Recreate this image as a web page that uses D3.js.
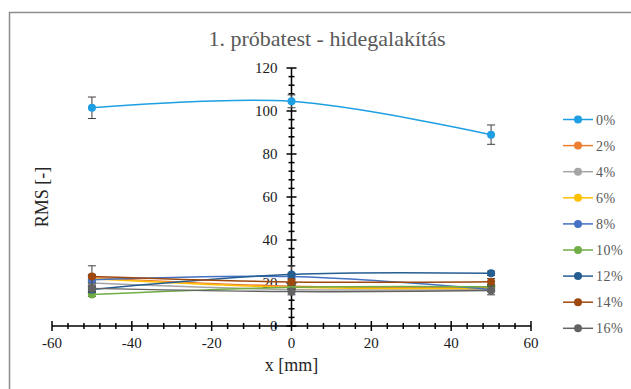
<!DOCTYPE html>
<html>
<head>
<meta charset="utf-8">
<script src="https://cdn.jsdelivr.net/npm/d3@7"></script>
<style>
  body { margin: 0; background: #fff; }
</style>
</head>
<body>
<div id="chart"></div>
<script>
// positions mesurées (mm)
const positions = [-50, 0, 50];

// noms des séries (légende)
const seriesNames = ["0%", "2%", "4%", "6%", "8%", "10%", "12%", "14%", "16%"];
const seriesColors = ["#1E9FE3", "#ED7D31", "#A5A5A5", "#FFC000", "#4472C4", "#70AD47", "#255E91", "#9E480E", "#636363"];

// valeurs RMS par série
const rms0 = [101.5, 104.5, 89];
const rms2 = [22.5, 18.5, 18];
const rms4 = [20, 17, 17];
const rms6 = [22, 18, 17.5];
const rms8 = [21.5, 23, 17];
const rms10 = [14.7, 18, 18.3];
const rms12 = [17, 24, 24.5];
const rms14 = [23, 20.5, 20.6];
const rms16 = [17.5, 16, 16.5];

// barres d'erreur
const err0 = [5, 3, 4.5];
const err2 = [1.5, 1, 1];
const err4 = [1.5, 1, 1];
const err6 = [1.5, 1, 1];
const err8 = [1.5, 1.5, 1];
const err10 = [1, 1, 1];
const err12 = [1.5, 4, 1];
const err14 = [5, 1.5, 1.5];
const err16 = [1.5, 1.5, 2];

const allValues = [rms0, rms2, rms4, rms6, rms8, rms10, rms12, rms14, rms16];
const allErrors = [err0, err2, err4, err6, err8, err10, err12, err14, err16];

// graduations
const xTicks = [-60, -40, -20, 0, 20, 40, 60];
const yTicks = [0, 20, 40, 60, 80, 100, 120];

const width = 631, height = 389;
const serif = "'Liberation Serif', 'Times New Roman', 'DejaVu Serif', serif";

const svg = d3.select("#chart").append("svg")
    .attr("width", width)
    .attr("height", height)
    .style("font-family", serif);

// cadre du graphique
svg.append("rect")
    .attr("x", 9.5).attr("y", 12.5)
    .attr("width", 640).attr("height", 400)
    .attr("fill", "none")
    .attr("stroke", "#8c8c8c")
    .attr("stroke-width", 1.5);

// titre
svg.append("text")
    .attr("x", 327).attr("y", 46)
    .attr("text-anchor", "middle")
    .attr("font-size", 22)
    .attr("fill", "#595959")
    .text("1. próbatest - hidegalakítás");

const x = d3.scaleLinear().domain([-60, 60]).range([52, 531]);
const y = d3.scaleLinear().domain([0, 120]).range([326, 68]);

// axe X (à y = 0)
const minorX = d3.range(-60, 61, 4);
const xAxisG = svg.append("g").attr("transform", `translate(0,${y(0)})`);
xAxisG.append("line")
    .attr("x1", x(-60)).attr("x2", x(60))
    .attr("stroke", "#000").attr("stroke-width", 1.5);
xAxisG.selectAll("line.minor")
    .data(minorX)
    .enter().append("line")
    .attr("class", "minor")
    .attr("x1", d => x(d)).attr("x2", d => x(d))
    .attr("y1", d => xTicks.includes(d) ? -5 : -3)
    .attr("y2", d => xTicks.includes(d) ? 5 : 3)
    .attr("stroke", "#000").attr("stroke-width", 1.5);
xAxisG.selectAll("text")
    .data(xTicks)
    .enter().append("text")
    .attr("x", d => x(d))
    .attr("y", 22)
    .attr("text-anchor", "middle")
    .attr("font-size", 15)
    .attr("fill", "#1a1a1a")
    .text(d => d);

// axe Y (à x = 0)
const minorY = d3.range(0, 121, 4);
const yAxisG = svg.append("g").attr("transform", `translate(${x(0)},0)`);
yAxisG.append("line")
    .attr("y1", y(0)).attr("y2", y(120))
    .attr("stroke", "#000").attr("stroke-width", 1.5);
yAxisG.selectAll("line.minor")
    .data(minorY)
    .enter().append("line")
    .attr("class", "minor")
    .attr("y1", d => y(d)).attr("y2", d => y(d))
    .attr("x1", d => yTicks.includes(d) ? -5 : -3)
    .attr("x2", d => yTicks.includes(d) ? 5 : 3)
    .attr("stroke", "#000").attr("stroke-width", 1.5);
yAxisG.selectAll("text")
    .data(yTicks)
    .enter().append("text")
    .attr("x", -14)
    .attr("y", d => y(d) + 5)
    .attr("text-anchor", "end")
    .attr("font-size", 15)
    .attr("fill", "#1a1a1a")
    .text(d => d);

// titres des axes
svg.append("text")
    .attr("x", x(0)).attr("y", 371)
    .attr("text-anchor", "middle")
    .attr("font-size", 18)
    .attr("fill", "#262626")
    .text("x [mm]");
svg.append("text")
    .attr("transform", `translate(48,${y(60)}) rotate(-90)`)
    .attr("text-anchor", "middle")
    .attr("font-size", 18)
    .attr("fill", "#262626")
    .text("RMS [-]");

// séries
const line = d3.line()
    .x(d => x(d.x))
    .y(d => y(d.v))
    .curve(d3.curveCatmullRom.alpha(0.5));

allValues.forEach((vals, i) => {
    const pts = positions.map((p, j) => ({ x: p, v: vals[j], e: allErrors[i][j] }));
    const g = svg.append("g");

    g.append("path")
        .datum(pts)
        .attr("d", line)
        .attr("fill", "none")
        .attr("stroke", seriesColors[i])
        .attr("stroke-width", 1.5);

    // barres d'erreur
    pts.forEach(p => {
        const cx = x(p.x);
        g.append("line")
            .attr("x1", cx).attr("x2", cx)
            .attr("y1", y(p.v - p.e)).attr("y2", y(p.v + p.e))
            .attr("stroke", "#404040").attr("stroke-width", 1);
        [p.v - p.e, p.v + p.e].forEach(v => {
            g.append("line")
                .attr("x1", cx - 4).attr("x2", cx + 4)
                .attr("y1", y(v)).attr("y2", y(v))
                .attr("stroke", "#404040").attr("stroke-width", 1);
        });
    });

    g.selectAll("circle")
        .data(pts)
        .enter().append("circle")
        .attr("cx", d => x(d.x))
        .attr("cy", d => y(d.v))
        .attr("r", 4)
        .attr("fill", seriesColors[i]);
});

// légende
const legend = svg.append("g");
seriesNames.forEach((name, i) => {
    const ly = 119.5 + i * 26.1;
    legend.append("line")
        .attr("x1", 563).attr("x2", 593)
        .attr("y1", ly).attr("y2", ly)
        .attr("stroke", seriesColors[i]).attr("stroke-width", 1.5);
    legend.append("circle")
        .attr("cx", 578).attr("cy", ly).attr("r", 4)
        .attr("fill", seriesColors[i]);
    legend.append("text")
        .attr("x", 596).attr("y", ly + 5)
        .attr("font-size", 14)
        .attr("fill", "#595959")
        .attr("letter-spacing", 0.5)
        .text(name);
});
</script>
</body>
</html>
